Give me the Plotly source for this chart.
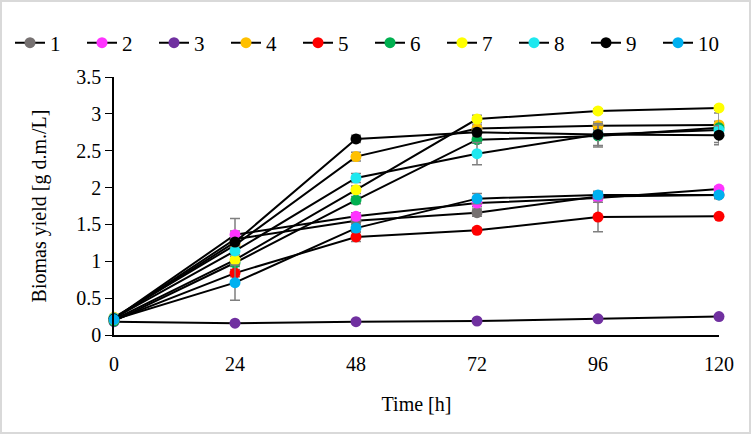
import plotly.graph_objects as go

time_h = [0, 24, 48, 72, 96, 120]
series_names = ["1", "2", "3", "4", "5", "6", "7", "8", "9", "10"]
colors = ["#767171", "#ff33ff", "#7030a0", "#ffc000", "#ff0000", "#00b050",
          "#ffff00", "#1ee8ef", "#000000", "#00b0f0"]

y1 = [0.22, 1.30, 1.55, 1.66, 1.88, 1.90]
y2 = [0.22, 1.36, 1.61, 1.79, 1.86, 1.98]
y3 = [0.18, 0.16, 0.18, 0.19, 0.22, 0.25]
y4 = [0.24, 1.22, 2.42, 2.80, 2.84, 2.85]
y5 = [0.20, 0.84, 1.33, 1.42, 1.60, 1.61]
y6 = [0.19, 0.98, 1.83, 2.65, 2.70, 2.81]
y7 = [0.21, 1.02, 1.97, 2.93, 3.04, 3.08]
y8 = [0.23, 1.14, 2.13, 2.46, 2.72, 2.78]
y9 = [0.22, 1.26, 2.66, 2.75, 2.72, 2.71]
y10 = [0.21, 0.71, 1.45, 1.85, 1.90, 1.90]

e1 = [0.03, 0.28, 0.05, 0.05, 0.05, 0.05]
e2 = [0.02, 0.05, 0.05, 0.05, 0.03, 0.03]
e3 = [0.01, 0.02, 0.02, 0.02, 0.02, 0.02]
e4 = [0.03, 0.05, 0.06, 0.05, 0.05, 0.05]
e5 = [0.02, 0.05, 0.06, 0.03, 0.20, 0.02]
e6 = [0.02, 0.05, 0.05, 0.05, 0.15, 0.20]
e7 = [0.02, 0.05, 0.05, 0.05, 0.03, 0.03]
e8 = [0.02, 0.05, 0.06, 0.15, 0.05, 0.05]
e9 = [0.02, 0.05, 0.05, 0.05, 0.15, 0.13]
e10 = [0.02, 0.24, 0.05, 0.07, 0.05, 0.03]

ys = [y1, y2, y3, y4, y5, y6, y7, y8, y9, y10]
es = [e1, e2, e3, e4, e5, e6, e7, e8, e9, e10]

fig = go.Figure()
for name, c, y, e in zip(series_names, colors, ys, es):
    fig.add_trace(go.Scatter(
        x=time_h, y=y, name=name, mode="lines+markers",
        line=dict(color="black", width=2),
        marker=dict(color=c, size=11, line=dict(width=0)),
        error_y=dict(type="data", array=e, visible=True, color="#7f7f7f",
                     thickness=1.5, width=5),
        cliponaxis=False,
    ))

L, R, T, B = 114, 719, 77, 335
W, H = 751, 434
pw, ph = R - L, B - T
FONT = "Times New Roman, Liberation Serif, serif"

fig.update_layout(
    width=W, height=H,
    margin=dict(l=L, r=W - R, t=T, b=H - B, autoexpand=False),
    paper_bgcolor="white", plot_bgcolor="white",
    font=dict(family=FONT, size=20, color="black"),
    showlegend=True,
    legend=dict(orientation="h", x=(10 - L) / pw, xanchor="left",
                y=1 + (T - 43) / ph, yanchor="middle",
                font=dict(family=FONT, size=21), entrywidth=27, entrywidthmode="pixels",
                itemwidth=30, tracegroupgap=0, bgcolor="rgba(0,0,0,0)"),
    xaxis=dict(range=[0, 120], tickvals=time_h, showgrid=False, zeroline=False,
               showline=True, linecolor="black", linewidth=1.5, ticks="",
               ticklabelstandoff=10, automargin=False,
               tickfont=dict(family=FONT, size=20),
               title=dict(text="Time [h]", font=dict(family=FONT, size=20), standoff=23)),
    yaxis=dict(range=[0, 3.5], dtick=0.5, showgrid=False, zeroline=False,
               showline=True, linecolor="black", linewidth=1.5,
               ticks="outside", ticklen=7, tickcolor="black", automargin=False,
               tickfont=dict(family=FONT, size=20),
               title=dict(text="Biomas yield [g d.m./L]", font=dict(family=FONT, size=20), standoff=24)),
    shapes=[dict(type="rect", xref="paper", yref="paper",
                 x0=(1 - L) / pw, x1=(W - 1 - L) / pw,
                 y0=-(H - 1 - B) / ph, y1=1 + (T - 1) / ph,
                 line=dict(color="#d9d9d9", width=2), layer="below")],
)

fig.write_html("out.html", config={"displayModeBar": False},
               post_script="document.body.style.margin='0';")
